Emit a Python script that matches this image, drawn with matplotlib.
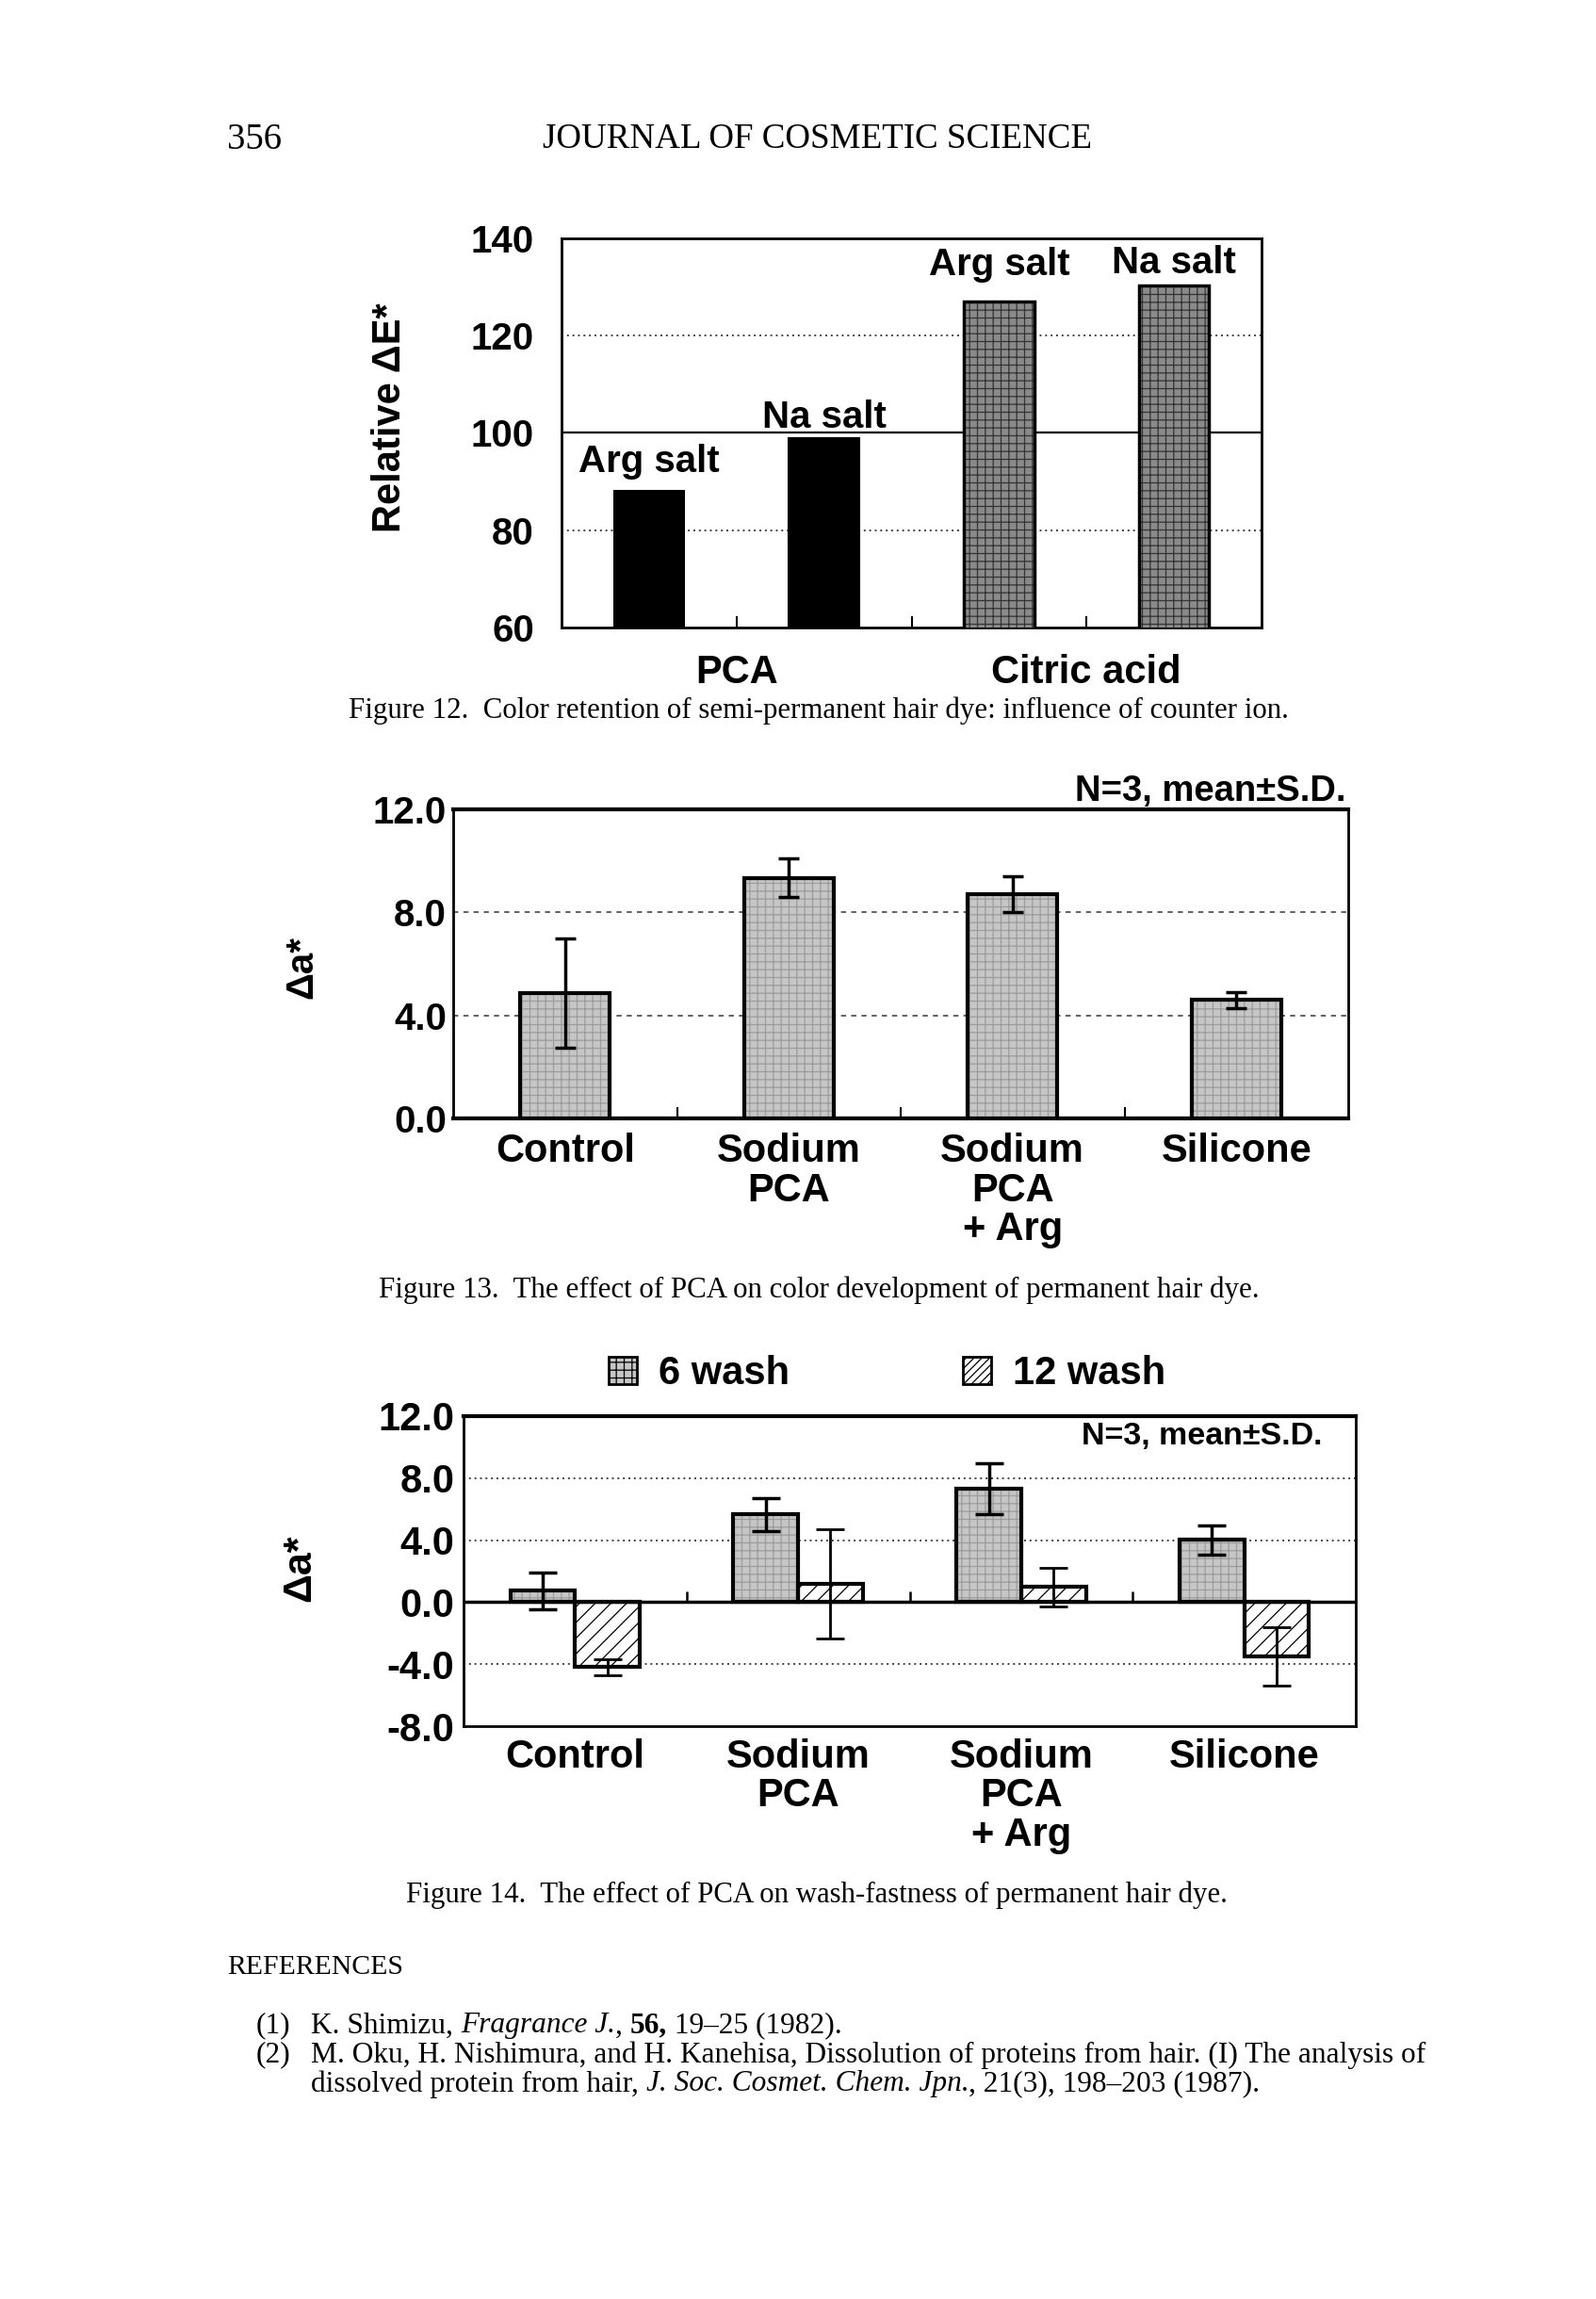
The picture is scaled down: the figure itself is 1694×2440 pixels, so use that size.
import matplotlib
matplotlib.use("Agg")
import matplotlib.pyplot as plt
import numpy as np
from matplotlib.patches import Patch
from matplotlib.ticker import FixedLocator

# ------------------------------------------------------------------ data
fig12_groups = ["PCA", "Citric acid"]
fig12_salts = ["Arg salt", "Na salt", "Arg salt", "Na salt"]
fig12_values = [88.0, 99.0, 127.0, 130.3]
fig12_label_y = [91.9, 101.0, 132.4, 132.8]
fig12_yticks = [60, 80, 100, 120, 140]

fig13_categories = ["Control", "Sodium\nPCA", "Sodium\nPCA\n+ Arg", "Silicone"]
fig13_values = [4.87, 9.33, 8.71, 4.60]
fig13_sd = [2.13, 0.75, 0.70, 0.32]
fig13_yticks = [0.0, 4.0, 8.0, 12.0]
fig13_yticklabels = ["0.0", "4.0", "8.0", "12.0"]

fig14_categories = ["Control", "Sodium\nPCA", "Sodium\nPCA\n+ Arg", "Silicone"]
fig14_series = ["6 wash", "12 wash"]
fig14_wash6 = [0.73, 5.66, 7.33, 4.02]
fig14_wash6_sd = [1.19, 1.05, 1.65, 0.93]
fig14_wash12 = [-4.20, 1.20, 0.98, -3.52]
fig14_wash12_sd = [0.51, 3.53, 1.25, 1.88]
fig14_yticks = [-8.0, -4.0, 0.0, 4.0, 8.0, 12.0]
fig14_yticklabels = ["-8.0", "-4.0", "0.0", "4.0", "8.0", "12.0"]

# ------------------------------------------------------------------ setup
plt.rcParams["font.family"] = ["Liberation Sans", "DejaVu Sans"]
plt.rcParams["font.weight"] = "bold"
plt.rcParams["axes.labelweight"] = "bold"
plt.rcParams["hatch.linewidth"] = 0.9

W, H = 1694, 2440
fig = plt.figure(figsize=(W / 100, H / 100), dpi=100)
fig.patch.set_facecolor("white")


def axrect(l, t, r, b):
    return [l / W, 1 - b / H, (r - l) / W, (b - t) / H]


TICK = 29
SERIF = ["Liberation Serif", "DejaVu Serif"]


def textured_bar(ax, x, h, width, face, hatch, hcolor, lw=2.5, bottom=0):
    ax.bar(x, h, width, bottom=bottom, color=face, edgecolor="none", zorder=3)
    ax.bar(x, h, width, bottom=bottom, fill=False, hatch=hatch,
           edgecolor=hcolor, linewidth=0, zorder=3.1)
    ax.bar(x, h, width, bottom=bottom, fill=False, edgecolor="black",
           linewidth=lw, zorder=3.2)


# ------------------------------------------------------------------ Figure 12
ax1 = fig.add_axes(axrect(596, 253, 1339, 666))
x1 = np.arange(len(fig12_values))
ax1.bar(x1[:2], fig12_values[:2], 0.4, color="black", edgecolor="black",
        linewidth=1.5, zorder=3)
textured_bar(ax1, x1[2:], fig12_values[2:], 0.4, "#8a8a8a", "++", "#333333")
ax1.set_xlim(-0.5, len(fig12_values) - 0.5)
ax1.set_ylim(fig12_yticks[0], fig12_yticks[-1])
ax1.set_yticks(fig12_yticks)
ax1.set_yticklabels([str(v) for v in fig12_yticks], fontsize=TICK)
ax1.tick_params(axis="y", length=0, pad=21)
for v in fig12_yticks[1:-1]:
    if v == 100:
        ax1.axhline(v, color="black", lw=1.6, zorder=1)
    else:
        ax1.axhline(v, color="#444444", lw=1.4, ls=(0, (1, 2)), zorder=1)
ax1.set_xticks([0.5, 2.5])
ax1.set_xticklabels(fig12_groups, fontsize=TICK + 1)
ax1.xaxis.set_minor_locator(FixedLocator([1.5]))
ax1.tick_params(axis="x", which="both", direction="in", length=9, width=1.5,
                pad=20)
for i, (s, y) in enumerate(zip(fig12_salts, fig12_label_y)):
    ax1.text(x1[i], y, s, ha="center", va="baseline", fontsize=TICK,
             zorder=4)
ax1.set_ylabel("Relative ΔE*", fontsize=TICK + 1, va="center",
               fontweight="bold")
ax1.yaxis.set_label_coords(-0.245, 0.54)
for sp in ax1.spines.values():
    sp.set_linewidth(2)

# ------------------------------------------------------------------ Figure 13
ax2 = fig.add_axes(axrect(481, 859, 1431, 1187))
x2 = np.arange(len(fig13_values))
textured_bar(ax2, x2, fig13_values, 0.4, "#c6c6c6", "++", "#9c9c9c", lw=3)
ax2.errorbar(x2, fig13_values, yerr=fig13_sd, fmt="none", ecolor="black",
             elinewidth=2.5, capsize=8, capthick=2.5, zorder=5)
ax2.set_xlim(-0.5, len(fig13_values) - 0.5)
ax2.set_ylim(fig13_yticks[0], fig13_yticks[-1])
ax2.set_yticks(fig13_yticks)
ax2.set_yticklabels(fig13_yticklabels, fontsize=TICK)
ax2.tick_params(axis="y", length=0, pad=5)
for v in fig13_yticks[1:-1]:
    ax2.axhline(v, color="#555555", lw=1.3, ls=(0, (3, 3)), zorder=1)
ax2.set_xticks(x2)
ax2.set_xticklabels(fig13_categories, fontsize=TICK + 1, linespacing=1.05,
                    va="top")
ax2.xaxis.set_minor_locator(FixedLocator(x2[:-1] + 0.5))
ax2.tick_params(axis="x", which="major", length=0, pad=11)
ax2.tick_params(axis="x", which="minor", direction="in", length=9, width=1.5)
ax2.set_ylabel("Δa*", fontsize=TICK, va="center", fontweight="bold")
ax2.yaxis.set_label_coords(-0.169, 0.49)
ax2.text(0.997, 1.058, "N=3, mean±S.D.", transform=ax2.transAxes,
         ha="right", va="center", fontsize=27.5)
for name, sp in ax2.spines.items():
    sp.set_linewidth(3 if name in ("top", "bottom") else 2)

# ------------------------------------------------------------------ Figure 14
ax3 = fig.add_axes(axrect(492, 1503, 1439, 1832))
x3 = np.arange(len(fig14_wash6))
bw = 0.29
textured_bar(ax3, x3 - bw / 2, fig14_wash6, bw, "#c6c6c6", "++", "#9c9c9c",
             lw=3)
ax3.bar(x3 + bw / 2, fig14_wash12, bw, color="white", edgecolor="black",
        hatch="//", linewidth=3, zorder=3)
ax3.errorbar(x3 - bw / 2, fig14_wash6, yerr=fig14_wash6_sd, fmt="none",
             ecolor="black", elinewidth=2.5, capsize=11, capthick=2.5,
             zorder=5)
ax3.errorbar(x3 + bw / 2, fig14_wash12, yerr=fig14_wash12_sd, fmt="none",
             ecolor="black", elinewidth=2.0, capsize=11, capthick=2.0,
             zorder=5)
ax3.set_xlim(-0.5, len(fig14_wash6) - 0.5)
ax3.set_ylim(fig14_yticks[0], fig14_yticks[-1])
ax3.set_yticks(fig14_yticks)
ax3.set_yticklabels(fig14_yticklabels, fontsize=TICK + 1)
ax3.tick_params(axis="y", length=0, pad=7)
for v in fig14_yticks[1:-1]:
    if v == 0:
        ax3.axhline(v, color="black", lw=2.5, zorder=4)
    else:
        ax3.axhline(v, color="#444444", lw=1.4, ls=(0, (1, 2)), zorder=1)
ax3.vlines(x3[:-1] + 0.5, 0, 0.7, color="black", lw=1.8, zorder=4)
ax3.set_xticks(x3)
ax3.set_xticklabels(fig14_categories, fontsize=TICK + 1, linespacing=1.05,
                    va="top")
ax3.tick_params(axis="x", length=0, pad=9)
ax3.set_ylabel("Δa*", fontsize=TICK + 2, va="center", fontweight="bold")
ax3.yaxis.set_label_coords(-0.183, 0.51)
ax3.text(0.962, 0.936, "N=3, mean±S.D.", transform=ax3.transAxes,
         ha="right", va="center", fontsize=24.5)
for name, sp in ax3.spines.items():
    sp.set_linewidth(3 if name == "top" else 2)
handles = [Patch(facecolor="#c6c6c6", edgecolor="black", hatch="++",
                 linewidth=2),
           Patch(facecolor="white", edgecolor="black", hatch="////",
                 linewidth=2)]
ax3.legend(handles, fig14_series, loc="center left",
           bbox_to_anchor=(0.163, 1.137), ncol=2, frameon=False,
           fontsize=TICK + 1, handlelength=0.72, handleheight=0.72,
           handletextpad=0.55, columnspacing=4.4, borderaxespad=0,
           borderpad=0)

# ------------------------------------------------------------------ page text
renderer = fig.canvas.get_renderer()


def fit_text(x_px, y_px, s, width_px, ha="left", **kw):
    t = fig.text(x_px / W, 1 - y_px / H, s, fontsize=20, ha=ha, va="center",
                 family=SERIF, weight="normal", **kw)
    w = t.get_window_extent(renderer).width
    t.set_fontsize(20 * width_px / w)
    return t


head = fit_text(867, 148, "JOURNAL OF COSMETIC SCIENCE", 583, ha="center")
fig.text(241 / W, 1 - 148 / H, "356", fontsize=head.get_fontsize() * 1.05,
         ha="left", va="center", family=SERIF, weight="normal")
fit_text(869, 754, "Figure 12.  Color retention of semi-permanent hair dye: "
         "influence of counter ion.", 1000, ha="center")
fit_text(869, 1369, "Figure 13.  The effect of PCA on color development of "
         "permanent hair dye.", 937, ha="center")
fit_text(867, 2011, "Figure 14.  The effect of PCA on wash-fastness of "
         "permanent hair dye.", 873, ha="center")
fit_text(241, 2088, "REFERENCES", 187)

N = {"style": "normal", "weight": "normal"}
I = {"style": "italic", "weight": "normal"}
B = {"style": "normal", "weight": "bold"}
ref1 = [("K. Shimizu, ", N), ("Fragrance J.", I), (", ", N), ("56,", B),
        (" 19–25 (1982).", N)]
ref2a = [("M. Oku, H. Nishimura, and H. Kanehisa, Dissolution of proteins "
          "from hair. (I) The analysis of", N)]
ref2b = [("dissolved protein from hair, ", N),
         ("J. Soc. Cosmet. Chem. Jpn.", I), (", 21(3), 198–203 (1987).", N)]


def seg_width(segs, size):
    total = 0
    for s, st in segs:
        t = fig.text(0, 0, s, fontsize=size, family=SERIF, **st)
        total += t.get_window_extent(renderer).width
        t.remove()
    return total


ref_size = 10 * 1184 / seg_width(ref2a, 10)


def seg_line(x_px, y_px, segs, size):
    x = x_px
    for s, st in segs:
        t = fig.text(x / W, 1 - y_px / H, s, fontsize=size, family=SERIF,
                     ha="left", va="center", **st)
        x += t.get_window_extent(renderer).width


seg_line(272, 2150, [("(1)", N)], ref_size)
seg_line(330, 2150, ref1, ref_size)
seg_line(272, 2181, [("(2)", N)], ref_size)
seg_line(330, 2181, ref2a, ref_size)
seg_line(330, 2212, ref2b, ref_size)

fig.savefig("out.png", dpi=100, facecolor="white")
